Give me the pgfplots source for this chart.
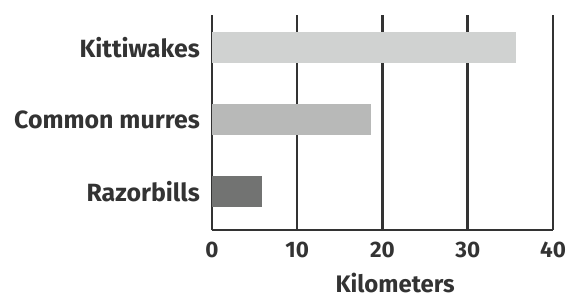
\documentclass[border=0pt]{standalone}
\usepackage{fontspec}
\setmainfont{Fira Sans}
\usepackage{pgfplots}
\pgfplotsset{compat=1.18}
\definecolor{txt}{HTML}{333333}
\definecolor{c1}{HTML}{D0D2D1}
\definecolor{c2}{HTML}{B8B9B8}
\definecolor{c3}{HTML}{727372}
\begin{document}
\begin{tikzpicture}
\useasboundingbox (-212bp,-70bp) rectangle (356bp,230bp);
\begin{axis}[
  at={(0,0)}, anchor=south west,
  scale only axis, width=341bp, height=215bp,
  xmin=0, xmax=40, ymin=-0.535, ymax=2.45,
  xbar, bar width=31.6bp,
  axis lines*=left,
  axis line style={line width=2.5bp, txt},
  xtick={0,10,20,30,40},
  ytick={0,1,2},
  yticklabels={Razorbills, Common murres, Kittiwakes},
  major tick length=0pt,
  xmajorgrids,
  major grid style={line width=2.5bp, txt},
  /pgf/number format/assume math mode=true,
  xticklabel style={font=\fontsize{22.5}{22.5}\selectfont\bfseries, text=txt, inner sep=0pt, yshift=-12bp},
  yticklabel style={font=\fontsize{25}{25}\selectfont\bfseries, text=txt, inner sep=0pt, xshift=-12bp},
  xlabel={Kilometers},
  xlabel style={font=\fontsize{24}{24}\selectfont\bfseries, text=txt, inner sep=0pt,
    at={(axis description cs:0.537,0)}, anchor=north, yshift=-43bp},
]
\addplot[fill=c3, draw=none, bar shift=0pt] coordinates {(5.9,0)};
\addplot[fill=c2, draw=none, bar shift=0pt] coordinates {(18.6,1)};
\addplot[fill=c1, draw=none, bar shift=0pt] coordinates {(35.7,2)};
\end{axis}
\end{tikzpicture}
\end{document}
